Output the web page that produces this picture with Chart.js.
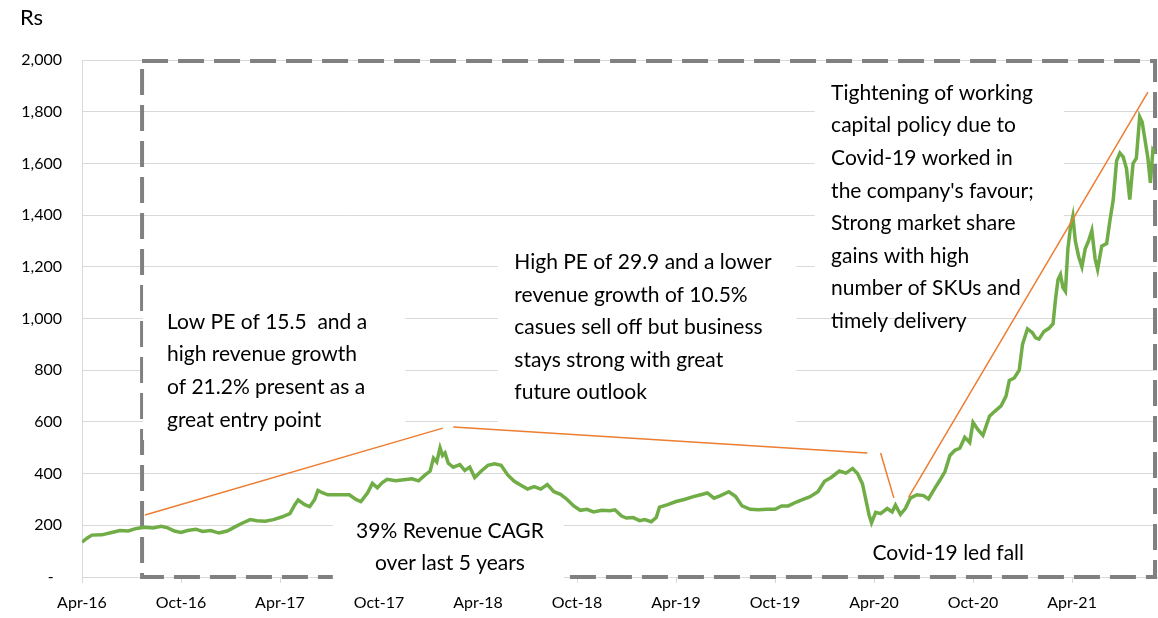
<!DOCTYPE html>
<html>
<head>
<meta charset="utf-8">
<script src="https://cdn.jsdelivr.net/npm/chart.js@4.4.0/dist/chart.umd.min.js"></script>
<style>
html,body{margin:0;padding:0;background:#fff}
#wrap{width:1158px;height:618px}
</style>
</head>
<body>
<div id="wrap"><canvas id="price-chart"></canvas></div>
<script>
// x = months since Apr-16, y = share price (Rs)
const tickMonths = [0, 6, 12, 18, 24, 30, 36, 42, 48, 54, 60];
const tickLabels = ['Apr-16','Oct-16','Apr-17','Oct-17','Apr-18','Oct-18','Apr-19','Oct-19','Apr-20','Oct-20','Apr-21'];

const months = [
  0, 0.3, 0.6, 1.2, 1.8, 2.3, 2.8, 3.3, 3.8, 4.3, 4.8, 5.2, 5.6, 6.0, 6.4, 6.9, 7.3, 7.8, 8.3, 8.8,
  9.3, 9.7, 10.2, 10.6, 11.1, 11.6, 12.1, 12.6, 12.9, 13.1, 13.5, 13.8, 14.1, 14.3, 14.6, 14.9, 15.5, 16.2, 16.6, 16.9,
  17.3, 17.6, 17.9, 18.2, 18.5, 19.0, 19.5, 20.0, 20.4, 20.8, 21.1, 21.3, 21.5, 21.7, 21.85, 22.0, 22.2, 22.5, 22.9, 23.2,
  23.5, 23.8, 24.2, 24.6, 25.0, 25.4, 25.8, 26.2, 26.6, 27.0, 27.4, 27.8, 28.2, 28.6, 29.0, 29.4, 29.8, 30.2, 30.6, 31.0,
  31.5, 32.0, 32.3, 32.7, 33.0, 33.4, 33.8, 34.1, 34.5, 34.8, 35.0, 35.5, 36.0, 36.5, 37.0, 37.5, 37.9, 38.3, 38.7, 39.2,
  39.6, 40.0, 40.5, 41.0, 41.5, 42.0, 42.4, 42.8, 43.3, 43.7, 44.1, 44.6, 45.0, 45.4, 45.9, 46.3, 46.7, 47.0, 47.3, 47.5,
  47.7, 47.85, 48.1, 48.4, 48.8, 49.1, 49.3, 49.6, 49.9, 50.2, 50.6, 51.0, 51.3, 51.7, 52.0, 52.3, 52.6, 52.9, 53.2, 53.5,
  53.8, 54.0, 54.3, 54.6, 55.0, 55.3, 55.7, 56.0, 56.2, 56.5, 56.8, 57.0, 57.3, 57.6, 57.8, 58.0, 58.3, 58.6, 58.85, 59.0,
  59.15, 59.3, 59.45, 59.6, 59.75, 59.9, 60.05, 60.2, 60.4, 60.6, 60.8, 61.0, 61.2, 61.4, 61.55, 61.8, 62.1, 62.3, 62.5, 62.7,
  62.9, 63.1, 63.3, 63.5, 63.7, 63.9, 64.1, 64.25, 64.4, 64.6, 64.75, 64.9, 65.0
];
const prices = [
  135, 150, 162, 163, 172, 180, 178, 188, 192, 190, 196, 190, 178, 172, 180, 185, 176, 180, 170, 178,
  195, 208, 222, 218, 216, 222, 232, 245, 280, 298, 280, 272, 300, 335, 325, 318, 318, 318, 300, 292,
  325, 362, 345, 365, 378, 372, 376, 380, 372, 395, 410, 460, 445, 500, 470, 480, 440, 425, 435, 412,
  425, 385, 410, 432, 438, 432, 395, 370, 355, 340, 350, 340, 358, 330, 320, 300, 275, 258, 262, 252,
  258, 256, 260, 236, 228, 230, 218, 222, 214, 230, 270, 280, 292, 300, 310, 318, 325, 305, 315, 330,
  312, 275, 262, 260, 262, 262, 275, 275, 290, 300, 310, 330, 370, 385, 410, 402, 420, 400, 360, 300,
  240, 210, 250, 245, 265, 252, 278, 242, 265, 305, 318, 315, 302, 345, 375, 408, 470, 490, 498, 540,
  520, 598, 570, 548, 622, 640, 662, 700, 760, 770, 800, 900, 960, 945, 925, 920, 950, 962, 980, 1075,
  1150, 1170, 1120, 1105, 1270, 1350, 1395, 1300, 1240, 1200, 1270, 1300, 1340, 1230, 1190, 1280, 1290, 1380, 1460, 1610,
  1640, 1625, 1580, 1460, 1600, 1620, 1780, 1760, 1700, 1620, 1525, 1650, 1640
];

// orange call-out lines: [month, price] start and end
const trendLines = [
  [[3.82, 240], [21.87, 576]],
  [[22.5, 580], [47.6, 480]],
  [[48.4, 480], [49.2, 306]],
  [[50.1, 309], [64.6, 1876]]
];

const noteLowPE = ['Low PE of 15.5  and a', 'high revenue growth', 'of 21.2% present as a', 'great entry point'];
const noteHighPE = ['High PE of 29.9 and a lower', 'revenue growth of 10.5%', 'casues sell off but business', 'stays strong with great', 'future outlook'];
const noteCovid = ['Tightening of working', 'capital policy due to', 'Covid-19 worked in', "the company's favour;", 'Strong market share', 'gains with high', 'number of SKUs and', 'timely delivery'];
const noteCagr = ['39% Revenue CAGR', 'over last 5 years'];
const noteFall = ['Covid-19 led fall'];

const FONT = 'Lato, "Open Sans", sans-serif';

// boxes in data units: x0, x1 (months), yTop, yBottom (Rs)
const boxes = [
  {x0: 3.7, x1: 19.6, top: 1130, bottom: 530, lines: noteLowPE, tx: 5.15, ty: 986, align: 'left'},
  {x0: 25.2, x1: 43.3, top: 1323, bottom: 585, lines: noteHighPE, tx: 26.2, ty: 1218, align: 'left'},
  {x0: 44.4, x1: 59.5, top: 1961, bottom: 1002, lines: noteCovid, tx: 45.4, ty: 1872, align: 'left'},
  {x0: 15.2, x1: 29.2, top: 271, bottom: -40, lines: noteCagr, tx: 22.3, ty: 178, align: 'center'},
  {x0: null, lines: noteFall, tx: 52.5, ty: 93, align: 'center'}
];

const frame = {x0: 3.64, x1: 65.03, top: 1996, bottom: 0};

const notesPlugin = {
  id: 'notes',
  beforeDatasetsDraw(chart) {
    const {ctx, scales: {x, y}} = chart;
    ctx.save();
    ctx.strokeStyle = '#808080';
    ctx.lineWidth = 4;
    ctx.setLineDash([26, 10]);
    const fx0 = x.getPixelForValue(frame.x0), fx1 = x.getPixelForValue(frame.x1);
    const fy0 = y.getPixelForValue(frame.top), fy1 = y.getPixelForValue(frame.bottom);
    ctx.strokeRect(fx0, fy0, fx1 - fx0, fy1 - fy0);
    ctx.setLineDash([]);
    ctx.fillStyle = '#ffffff';
    boxes.forEach(b => {
      if (b.x0 === null) return;
      const bx0 = x.getPixelForValue(b.x0), bx1 = x.getPixelForValue(b.x1);
      const by0 = y.getPixelForValue(b.top), by1 = y.getPixelForValue(b.bottom);
      ctx.fillRect(bx0, by0, bx1 - bx0, by1 - by0);
    });
    ctx.restore();
  },
  afterDatasetsDraw(chart) {
    const {ctx, scales: {x, y}} = chart;
    ctx.save();
    ctx.strokeStyle = '#ED7D31';
    ctx.lineWidth = 1.5;
    trendLines.forEach(l => {
      ctx.beginPath();
      ctx.moveTo(x.getPixelForValue(l[0][0]), y.getPixelForValue(l[0][1]));
      ctx.lineTo(x.getPixelForValue(l[1][0]), y.getPixelForValue(l[1][1]));
      ctx.stroke();
    });
    ctx.fillStyle = '#000000';
    ctx.font = '21px ' + FONT;
    ctx.textBaseline = 'middle';
    boxes.forEach(b => {
      ctx.textAlign = b.align;
      const tx = x.getPixelForValue(b.tx);
      const ty = y.getPixelForValue(b.ty);
      b.lines.forEach((t, i) => ctx.fillText(t, tx, ty + i * 32.6));
    });
    // axis unit
    ctx.font = '22px ' + FONT;
    ctx.textAlign = 'left';
    ctx.fillText('Rs', chart.chartArea.left - 62, chart.chartArea.top - 42);
    ctx.restore();
  }
};

const ctxPrice = document.getElementById('price-chart');
const priceChart = new Chart(ctxPrice, {
  type: 'line',
  data: {
    datasets: [{
      label: 'Price',
      data: months.map((m, i) => ({x: m, y: prices[i]})),
      borderColor: '#70AD47',
      borderWidth: 3.5,
      pointRadius: 0,
      tension: 0,
      fill: false
    }]
  },
  options: {
    responsive: true,
    maintainAspectRatio: false,
    animation: false,
    layout: {padding: {top: 60, right: 1, left: 0, bottom: 0}},
    plugins: {
      legend: {display: false},
      tooltip: {enabled: false}
    },
    scales: {
      x: {
        type: 'linear',
        min: 0,
        max: 65.15,
        afterBuildTicks(scale) {
          scale.ticks = tickMonths.map(v => ({value: v}));
        },
        afterFit(scale) { scale.height = 41; },
        grid: {
          drawOnChartArea: false,
          drawTicks: true,
          tickLength: 6,
          color: '#d9d9d9'
        },
        border: {display: true, color: '#d9d9d9'},
        ticks: {
          autoSkip: false,
          maxRotation: 0,
          padding: 10,
          color: '#000000',
          font: {family: FONT, size: 16},
          callback: v => tickLabels[tickMonths.indexOf(v)]
        }
      },
      y: {
        min: 0,
        max: 2000,
        afterFit(scale) { scale.width = 82; },
        grid: {color: '#d9d9d9', drawTicks: false},
        border: {display: true, color: '#d9d9d9'},
        ticks: {
          stepSize: 200,
          padding: 20,
          color: '#000000',
          font: {family: FONT, size: 16},
          callback: v => v === 0 ? '-  ' : v.toLocaleString('en-US')
        }
      }
    }
  },
  plugins: [notesPlugin]
});
</script>
</body>
</html>
